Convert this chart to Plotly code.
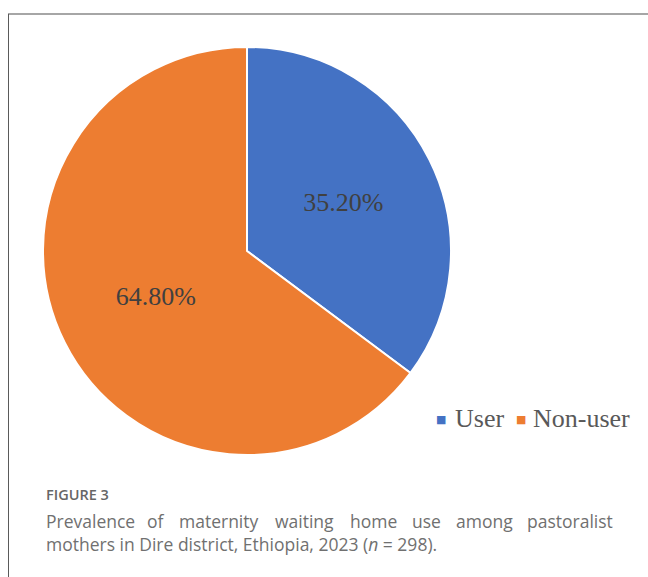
import plotly.graph_objects as go

labels = ["User", "Non-user"]
values = [35.20, 64.80]
colors = ["#4472C4", "#ED7D31"]

caption_title = "FIGURE 3"
caption_line1_words = ["Prevalence", "of", "maternity", "waiting", "home", "use", "among", "pastoralist"]
caption_line2 = "mothers in Dire district, Ethiopia, 2023 (<i>n</i> = 298)."

# approximate rendered word widths (px) used only to justify the first caption line
_word_w = [88, 17, 80, 60, 47, 30, 56, 87]
_line_left, _line_right = 44, 615

# legend key layout (pixel x of marker centre and text start)
legend_marker_x = [441, 521]
legend_text_x = [453, 531]

W, H = 648, 577
CX, CY, R = 247, 251, 204

fig = go.Figure()
fig.add_trace(go.Pie(
    labels=labels,
    values=values,
    sort=False,
    direction="clockwise",
    rotation=0,
    marker=dict(colors=colors, line=dict(color="white", width=2)),
    texttemplate="%{value:.2f}%",
    textposition="inside",
    insidetextorientation="horizontal",
    textfont=dict(family="Liberation Serif", size=26, color="#404040"),
    hoverinfo="label+percent",
    showlegend=False,
    domain=dict(x=[(CX - R) / W, (CX + R) / W], y=[1 - (CY + R) / H, 1 - (CY - R) / H]),
))

annotations = []
for lab, col, mx, tx in zip(labels, colors, legend_marker_x, legend_text_x):
    annotations.append(dict(
        text="■", x=mx / W, y=1 - 419 / H, xref="paper", yref="paper",
        xanchor="center", yanchor="middle", showarrow=False,
        font=dict(family="DejaVu Sans", size=11, color=col),
    ))
    annotations.append(dict(
        text=lab, x=tx / W, y=1 - 418 / H, xref="paper", yref="paper",
        xanchor="left", yanchor="middle", showarrow=False,
        font=dict(family="Liberation Serif", size=26, color="#595959"),
    ))

annotations.append(dict(
    text=caption_title, x=44 / W, y=1 - 494 / H, xref="paper", yref="paper",
    xanchor="left", yanchor="middle", showarrow=False,
    font=dict(family="Open Sans", size=14.5, color="#666666", weight=600),
))

n_words = len(caption_line1_words)
gap = (_line_right - _line_left - sum(_word_w)) / (n_words - 1)
xpos = _line_left
for i, w in enumerate(caption_line1_words):
    if i == 0:
        x, anchor = _line_left, "left"
    elif i == n_words - 1:
        x, anchor = _line_right, "right"
    else:
        x, anchor = xpos + _word_w[i] / 2, "center"
    annotations.append(dict(
        text=w, x=x / W, y=1 - 521 / H, xref="paper", yref="paper",
        xanchor=anchor, yanchor="middle", showarrow=False,
        font=dict(family="Open Sans", size=17.5, color="#707070"),
    ))
    xpos += _word_w[i] + gap

annotations.append(dict(
    text=caption_line2, x=44 / W, y=1 - 544 / H, xref="paper", yref="paper",
    xanchor="left", yanchor="middle", showarrow=False,
    font=dict(family="Open Sans", size=17.5, color="#707070"),
))

shapes = [
    dict(type="line", xref="paper", yref="paper", x0=8 / W, x1=1, y0=1 - 14 / H, y1=1 - 14 / H,
         line=dict(color="#A6A6A6", width=2)),
    dict(type="line", xref="paper", yref="paper", x0=8.5 / W, x1=8.5 / W, y0=0, y1=1 - 14 / H,
         line=dict(color="#5A5A5A", width=1)),
]

fig.update_layout(
    width=W, height=H, autosize=False,
    margin=dict(l=0, r=0, t=0, b=0),
    paper_bgcolor="white", plot_bgcolor="white",
    showlegend=False,
    annotations=annotations,
    shapes=shapes,
)

fig.write_html("out.html")
